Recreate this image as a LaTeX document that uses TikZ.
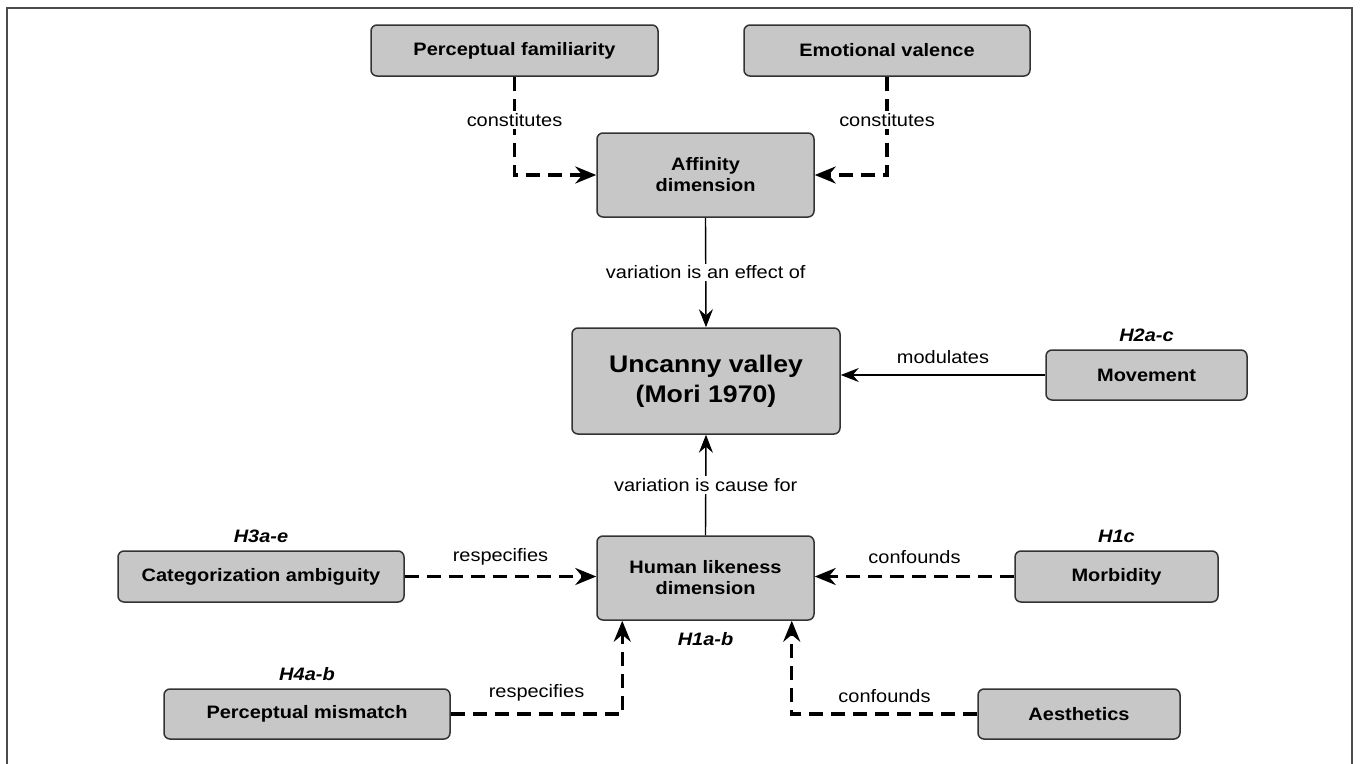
\documentclass[tikz,border=0pt]{standalone}
\usepackage{fontspec}
\setmainfont{Liberation Sans}[FakeStretch=1.11]
\usetikzlibrary{arrows.meta,positioning}

\begin{document}
\begin{tikzpicture}[x=1pt,y=-1pt,
  box/.style={draw=black!80,fill=black!22,line width=1.5pt,rounded corners=6pt,align=center,inner sep=2pt,
    font=\bfseries\fontsize{18}{21}\selectfont},
  rel/.style={font=\fontsize{18}{21}\selectfont,inner sep=2pt},
  hyp/.style={font=\bfseries\itshape\fontsize{18}{21}\selectfont,inner sep=1pt},
  dashline/.style={line width=3.4pt,dash pattern=on 14pt off 8pt,-{Stealth[length=21pt,width=17pt,inset=7pt]}},
  solidline/.style={line width=1.4pt,-{Stealth[length=18pt,width=14pt,inset=6pt]}}]
\useasboundingbox (0,0) rectangle (1360,763);
\draw[black!70,line width=1.5pt] (7,775) -- (7,8) -- (1352,8) -- (1352,775);

% boxes
\node[box,minimum width=287pt,minimum height=51pt] (pf) at (514.5,50.5) {Perceptual familiarity};
\node[box,minimum width=286pt,minimum height=51pt] (ev) at (887,50.5) {Emotional valence};
\node[box,minimum width=217pt,minimum height=84pt] (aff) at (705.5,175) {Affinity\\dimension};
\node[box,minimum width=268pt,minimum height=106pt,font=\bfseries\fontsize{24}{30}\selectfont] (unc) at (706,381) {Uncanny valley\\(Mori 1970)};
\node[box,minimum width=201pt,minimum height=50pt] (mov) at (1146.5,375) {Movement};
\node[box,minimum width=217pt,minimum height=84pt] (hum) at (705.5,578) {Human likeness\\dimension};
\node[box,minimum width=286pt,minimum height=51pt] (cat) at (261,576.5) {Categorization ambiguity};
\node[box,minimum width=203pt,minimum height=51pt] (mor) at (1116.5,576.5) {Morbidity};
\node[box,minimum width=286pt,minimum height=50pt] (pm) at (307,714) {Perceptual mismatch};
\node[box,minimum width=202pt,minimum height=50pt] (aes) at (1079,714) {Aesthetics};

% hypotheses
\node[hyp,above=6pt of mov] (h2) {H2a-c};
\node[hyp,above=6pt of cat] (h3) {H3a-e};
\node[hyp,above=6pt of mor] (h1c) {H1c};
\node[hyp,above=6pt of pm] (h4) {H4a-b};
\node[hyp,below=10pt of hum] (h1ab) {H1a-b};

% relations
\draw[dashline] (pf.south) |- node[rel,fill=white,pos=0.22] (c1) {constitutes} (aff.west);
\draw[dashline] (ev.south) |- node[rel,fill=white,pos=0.22] (c2) {constitutes} (aff.east);
\draw[solidline] (aff.south) -- node[rel,fill=white] (e1) {variation is an effect of} (unc.north);
\draw[solidline] (hum.north) -- node[rel,fill=white] (e2) {variation is cause for} (unc.south);
\draw[solidline] (mov.west) -- node[rel,above=9pt] (m1) {modulates} (mov.west -| unc.east);
\draw[dashline] (cat.east) -- node[rel,above=8pt] (r1) {respecifies} (cat.east -| hum.west);
\draw[dashline] (mor.west) -- node[rel,above=9pt] (f1) {confounds} (mor.west -| hum.east);
\draw[dashline] (pm.east) -| node[rel,above=9pt,pos=0.25] (r2) {respecifies} ([xshift=26pt]hum.south west);
\draw[dashline] (aes.west) -| node[rel,above=8pt,pos=0.25] (f2) {confounds} ([xshift=-23pt]hum.south east);
\end{tikzpicture}
\end{document}
